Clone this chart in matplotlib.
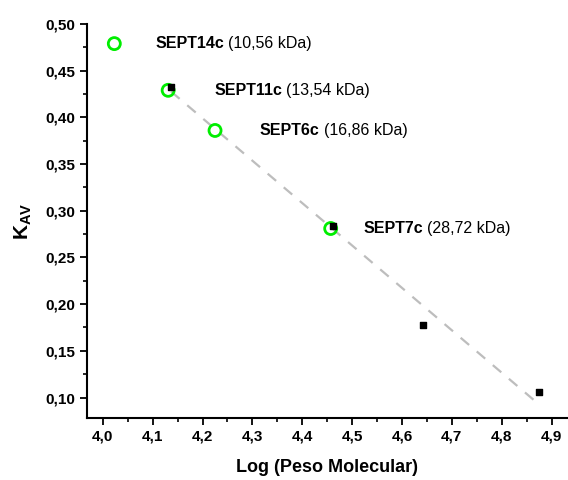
import matplotlib
matplotlib.use('Agg')
import matplotlib.pyplot as plt
import numpy as np
from matplotlib.ticker import MultipleLocator, FuncFormatter

plt.rcParams['font.family'] = ['Liberation Sans', 'DejaVu Sans']
plt.rcParams['mathtext.fontset'] = 'custom'
plt.rcParams['mathtext.rm'] = 'Liberation Sans'
plt.rcParams['mathtext.bf'] = 'Liberation Sans:bold'

# standards (green circles)
std_names = ['SEPT14c', 'SEPT11c', 'SEPT6c', 'SEPT7c']
std_kda = ['(10,56 kDa)', '(13,54 kDa)', '(16,86 kDa)', '(28,72 kDa)']
std_x = [4.023, 4.131, 4.225, 4.457]
std_y = [0.479, 0.429, 0.386, 0.281]

# calibration points (black squares)
cal_x = [4.137, 4.461, 4.642, 4.874]
cal_y = [0.4325, 0.2835, 0.1775, 0.106]

# label anchors
lab_x = [4.105, 4.223, 4.315, 4.522]

fig = plt.figure(figsize=(5.68, 4.8), dpi=100)
ax = fig.add_axes([0.153, 0.129, 0.847, 0.821])

# linear fit
p = np.polyfit(cal_x, cal_y, 1)
fx = np.array([min(cal_x), max(cal_x)])
ax.plot(fx, np.polyval(p, fx), color='#bdbdbd', lw=1.6, ls=(0, (5, 4.5)), zorder=1)

ax.scatter(cal_x, cal_y, marker='s', s=22, color='black', zorder=3)
ax.scatter(std_x, std_y, marker='o', s=75, facecolors='none',
           edgecolors='#00ee00', linewidths=2.0, zorder=2)

for name, kda, lx, ly in zip(std_names, std_kda, lab_x, std_y):
    t = ax.text(lx, ly, name, fontsize=11.5, fontweight='bold', va='center', ha='left')
    ax.annotate(kda, xy=(1, 0), xycoords=t, xytext=(3, 0), textcoords='offset points',
                va='bottom', ha='left', fontsize=11.5)

ax.set_xlim(3.968, 4.933)
ax.set_ylim(0.078, 0.50)

ax.xaxis.set_major_locator(MultipleLocator(0.1))
ax.xaxis.set_minor_locator(MultipleLocator(0.05))
ax.yaxis.set_major_locator(MultipleLocator(0.05))
ax.yaxis.set_minor_locator(MultipleLocator(0.025))
ax.xaxis.set_major_formatter(FuncFormatter(lambda v, pos: ('%.1f' % v).replace('.', ',')))
ax.yaxis.set_major_formatter(FuncFormatter(lambda v, pos: ('%.2f' % v).replace('.', ',')))

for s in ['top', 'right']:
    ax.spines[s].set_visible(False)
for s in ['left', 'bottom']:
    ax.spines[s].set_linewidth(1.5)
ax.tick_params(which='major', direction='out', length=5, width=1.3, labelsize=11)
ax.tick_params(which='minor', direction='out', length=3, width=1.2)
for lab in ax.get_xticklabels() + ax.get_yticklabels():
    lab.set_fontweight('bold')

ax.set_xlabel('Log (Peso Molecular)', fontsize=13, fontweight='bold', labelpad=11)
ax.set_ylabel(r'$\mathbf{K_{AV}}$', fontsize=15, labelpad=8)

fig.savefig('out.png', dpi=100)
